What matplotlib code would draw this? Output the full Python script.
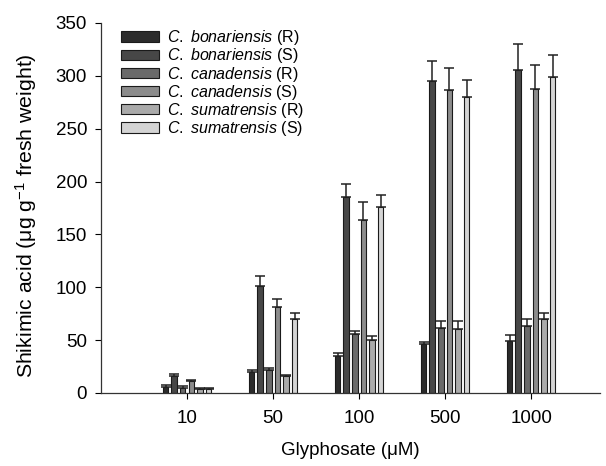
import matplotlib
matplotlib.use("Agg")
import matplotlib.pyplot as plt
import numpy as np

plt.rcParams['font.family'] = ['Liberation Sans', 'DejaVu Sans']
plt.rcParams['mathtext.fontset'] = 'custom'
plt.rcParams['mathtext.rm'] = 'Liberation Sans'
plt.rcParams['mathtext.it'] = 'Liberation Sans:italic'

categories = ["10", "50", "100", "500", "1000"]
species = ["bonariensis", "bonariensis", "canadensis", "canadensis",
           "sumatrensis", "sumatrensis"]
biotype = ["R", "S", "R", "S", "R", "S"]

bon_R = [6, 20, 35, 46, 49.5]
bon_S = [16, 101, 185, 295, 305.5]
can_R = [5, 21.5, 55.5, 61, 63.5]
can_S = [11, 81.5, 164, 286.5, 287.5]
sum_R = [4, 16, 50, 60.5, 70]
sum_S = [4, 70, 176, 280, 299]
values = [bon_R, bon_S, can_R, can_S, sum_R, sum_S]

bon_R_err = [1.5, 1.5, 2.5, 2.5, 5.5]
bon_S_err = [1.5, 10, 13, 19, 24.5]
can_R_err = [1.5, 2.5, 3.5, 7, 6.5]
can_S_err = [1.5, 7.5, 17, 21, 22.5]
sum_R_err = [1, 1, 3.5, 7.5, 6]
sum_S_err = [1, 6, 11.5, 16, 20.5]
errors = [bon_R_err, bon_S_err, can_R_err, can_S_err, sum_R_err, sum_S_err]

colors = ["#2b2b2b", "#474747", "#6a6a6a", "#8c8c8c", "#aaaaaa", "#d4d4d4"]

fig = plt.figure(figsize=(6.06, 4.66), dpi=100)
ax = fig.add_axes([0.1667, 0.1567, 0.8233, 0.794])

x = np.arange(1, len(categories) + 1)
pitch = 0.1
width = 0.064
for i in range(6):
    pos = x + (i - 2.5) * pitch
    ax.bar(pos, values[i], width=width, color=colors[i], edgecolor="#1a1a1a",
           linewidth=0.8, zorder=2,
           label=r"$\it{C.\ " + species[i] + r"}$ (" + biotype[i] + ")")
    ax.errorbar(pos, values[i], yerr=[np.zeros(5), errors[i]], fmt="none",
                ecolor="#222222", elinewidth=1.1, capsize=3.8, capthick=1.1,
                zorder=3)

ax.set_xlim(0, 5.8)
ax.set_ylim(0, 350)
ax.set_xticks(x)
ax.set_xticklabels(categories)
ax.set_yticks(np.arange(0, 351, 50))
ax.tick_params(axis='both', direction='out', length=4, width=0.8,
               labelsize=13.5)
ax.tick_params(axis='x', pad=8)
ax.tick_params(axis='y', pad=6)
for s in ['top', 'right']:
    ax.spines[s].set_visible(False)
for s in ['left', 'bottom']:
    ax.spines[s].set_linewidth(0.9)
    ax.spines[s].set_color('#333333')

ax.set_xlabel("Glyphosate (μM)", fontsize=13.5, labelpad=11)
ax.set_ylabel("Shikimic acid (μg g$^{-1}$ fresh weight)", fontsize=15.3,
              labelpad=6)
ax.yaxis.set_label_coords(-0.125, 0.48)

leg = ax.legend(loc='upper left', bbox_to_anchor=(0.02, 1.012), frameon=False,
                fontsize=11.5, handlelength=2.4, handleheight=0.6,
                labelspacing=-0.05, handletextpad=0.5, borderaxespad=0.2)

fig.savefig("out.png", dpi=100)
